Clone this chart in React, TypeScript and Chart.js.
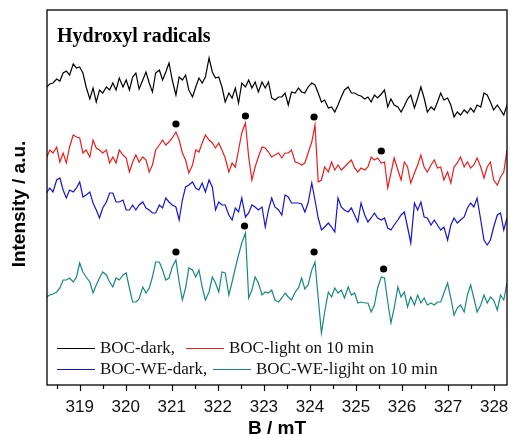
import React, { useEffect, useRef } from 'react';
import { Chart, registerables } from 'chart.js';

Chart.register(...registerables);

// Magnetic field (mT), common sampling grid of all four spectra
const field = [
  318.28, 318.35, 318.42, 318.50, 318.57, 318.64, 318.71, 318.78, 318.86, 318.93,
  319.00, 319.07, 319.14, 319.22, 319.29, 319.36, 319.43, 319.50, 319.58, 319.65,
  319.72, 319.79, 319.86, 319.94, 320.01, 320.08, 320.15, 320.22, 320.29, 320.37,
  320.44, 320.51, 320.58, 320.65, 320.73, 320.80, 320.87, 320.94, 321.01, 321.09,
  321.16, 321.23, 321.30, 321.37, 321.45, 321.52, 321.59, 321.66, 321.73, 321.81,
  321.88, 321.95, 322.02, 322.09, 322.16, 322.24, 322.31, 322.38, 322.45, 322.52,
  322.60, 322.67, 322.74, 322.81, 322.88, 322.96, 323.03, 323.10, 323.17, 323.24,
  323.32, 323.39, 323.46, 323.53, 323.60, 323.68, 323.75, 323.82, 323.89, 323.96,
  324.04, 324.11, 324.18, 324.25, 324.32, 324.40, 324.47, 324.54, 324.61, 324.68,
  324.75, 324.83, 324.90, 324.97, 325.04, 325.11, 325.19, 325.26, 325.33, 325.40,
  325.47, 325.55, 325.62, 325.69, 325.76, 325.83, 325.91, 325.98, 326.05, 326.12,
  326.19, 326.27, 326.34, 326.41, 326.48, 326.55, 326.63, 326.70, 326.77, 326.84,
  326.91, 326.99, 327.06, 327.13, 327.20, 327.27, 327.35, 327.42, 327.49, 327.56,
  327.63, 327.71, 327.78, 327.85, 327.92, 327.99, 328.07, 328.14, 328.21, 328.28,
];

// Intensities (a.u., spectra stacked with offsets as in the figure)
const bocDark = [
  313, 316, 317, 321, 319, 327, 329, 325, 336, 332,
  333, 327, 313, 301, 312, 298, 310, 307, 313, 310,
  317, 310, 322, 313, 320, 310, 323, 327, 311, 320,
  328, 317, 308, 327, 330, 320, 328, 337, 320, 305,
  323, 320, 325, 310, 303, 313, 322, 317, 323, 342,
  328, 322, 323, 313, 298, 307, 302, 312, 297, 317,
  313, 320, 312, 318, 308, 318, 312, 318, 302, 300,
  303, 303, 307, 295, 308, 307, 312, 308, 307, 313,
  317, 315, 307, 298, 300, 292, 293, 288, 295, 303,
  310, 313, 307, 307, 305, 304, 301, 303, 298, 305,
  302, 306, 310, 293, 301, 295, 293, 288, 294, 301,
  305, 292, 302, 313, 302, 288, 293, 290, 298, 307,
  300, 302, 295, 283, 288, 285, 290, 287, 292, 288,
  295, 293, 307, 305, 298, 290, 295, 290, 285, 295,
];

const bocLight = [
  242, 250, 247, 253, 238, 247, 237, 253, 265, 263,
  262, 247, 250, 243, 260, 252, 250, 247, 250, 237,
  243, 237, 250, 245, 242, 228, 238, 245, 238, 243,
  240, 228, 235, 250, 255, 260, 255, 258, 262, 268,
  260, 247, 240, 227, 235, 250, 248, 257, 265, 260,
  257, 252, 257, 250, 242, 228, 237, 233, 250, 267,
  277, 243, 220, 233, 243, 253, 252, 248, 243, 245,
  247, 242, 247, 247, 250, 238, 237, 235, 237, 247,
  258, 275, 218, 220, 233, 228, 238, 230, 235, 230,
  233, 237, 240, 232, 228, 232, 230, 233, 243, 240,
  242, 237, 238, 212, 227, 242, 230, 220, 238, 233,
  217, 227, 235, 245, 233, 228, 235, 240, 232, 233,
  220, 228, 217, 233, 237, 243, 233, 238, 232, 235,
  242, 233, 222, 233, 238, 220, 215, 223, 228, 250,
];

const bocWeDark = [
  207, 212, 208, 220, 222, 210, 202, 210, 208, 212,
  218, 203, 205, 208, 197, 190, 182, 192, 198, 207,
  207, 198, 198, 200, 190, 190, 195, 190, 195, 198,
  192, 190, 187, 187, 195, 192, 202, 198, 195, 193,
  180, 200, 213, 215, 218, 212, 210, 217, 208, 220,
  213, 190, 198, 195, 195, 185, 180, 192, 188, 202,
  183, 187, 195, 193, 190, 193, 173, 190, 202, 193,
  190, 185, 205, 203, 197, 197, 197, 196, 188, 197,
  217, 200, 182, 170, 173, 177, 173, 168, 202, 193,
  190, 188, 192, 185, 178, 197, 185, 178, 182, 187,
  182, 180, 182, 172, 170, 175, 180, 185, 188, 173,
  157, 197, 190, 198, 183, 182, 175, 180, 175, 170,
  173, 160, 175, 182, 177, 180, 183, 192, 197, 193,
  202, 180, 160, 155, 160, 173, 185, 187, 170, 182,
];

const bocWeLight = [
  103, 105, 106, 108, 112, 120, 120, 122, 118, 123,
  137, 128, 123, 118, 107, 115, 122, 128, 125, 118,
  113, 122, 120, 125, 127, 112, 98, 98, 101, 113,
  107, 112, 123, 138, 138, 130, 120, 122, 133, 140,
  118, 100, 112, 132, 130, 123, 130, 113, 100, 108,
  123, 117, 108, 128, 127, 105, 118, 132, 145, 157,
  167, 102, 110, 123, 117, 105, 108, 107, 110, 100,
  98, 102, 107, 103, 100, 108, 112, 122, 111, 115,
  130, 138, 102, 67, 88, 108, 103, 112, 107, 110,
  102, 113, 105, 107, 97, 98, 97, 97, 88, 95,
  112, 123, 122, 98, 77, 92, 113, 103, 108, 93,
  103, 95, 105, 97, 102, 95, 97, 95, 98, 98,
  107, 117, 102, 85, 92, 95, 88, 105, 115, 102,
  88, 95, 105, 97, 103, 100, 90, 105, 100, 117,
];

// Peak markers (DMPO-OH quartet)
const dotField = [321.09, 322.60, 324.09, 325.55, 321.09, 322.58, 324.09, 325.60];
const dotIntensity = [276, 284, 283, 249, 148, 174, 148, 131];

const seriesLabels = ['BOC-dark,', 'BOC-light on 10 min', 'BOC-WE-dark,', 'BOC-WE-ligjht on 10 min'];
const seriesColors = ['#000000', '#ee1c1c', '#1414d4', '#178a7e'];
const majorTicks = [319, 320, 321, 322, 323, 324, 325, 326, 327, 328];
const minorTicks = [318.5, 319.5, 320.5, 321.5, 322.5, 323.5, 324.5, 325.5, 326.5, 327.5];
const panelTitle = 'Hydroxyl radicals';
const xTitle = 'B / mT';
const yTitle = 'Intensity / a.u.';

const SERIF = '"Liberation Serif", "Times New Roman", serif';
const SANS = '"Liberation Sans", Arial, sans-serif';

const decorPlugin = {
  id: 'decor',
  afterDatasetsDraw(chart: any) {
    const { ctx, chartArea, scales } = chart;
    const { left, right, top, bottom } = chartArea;
    const xs = scales.x;
    ctx.save();
    // frame
    ctx.strokeStyle = '#000';
    ctx.lineWidth = 1.3;
    ctx.strokeRect(left, top, right - left, bottom - top);
    // outward ticks
    ctx.lineWidth = 1.2;
    ctx.beginPath();
    majorTicks.forEach((v) => {
      const p = Math.round(xs.getPixelForValue(v)) + 0.5;
      ctx.moveTo(p, bottom);
      ctx.lineTo(p, bottom + 6);
    });
    minorTicks.forEach((v) => {
      const p = Math.round(xs.getPixelForValue(v)) + 0.5;
      ctx.moveTo(p, bottom);
      ctx.lineTo(p, bottom + 4);
    });
    ctx.stroke();
    // panel title
    ctx.fillStyle = '#000';
    ctx.font = 'bold 20px ' + SERIF;
    ctx.textAlign = 'left';
    ctx.textBaseline = 'alphabetic';
    ctx.fillText(panelTitle, left + 10, top + 32);
    // y-axis title
    ctx.save();
    ctx.translate(20, 204);
    ctx.rotate(-Math.PI / 2);
    ctx.font = 'bold 19px ' + SANS;
    ctx.textAlign = 'center';
    ctx.textBaseline = 'middle';
    ctx.fillText(yTitle, 0, 0);
    ctx.restore();
    // legend (2 x 2)
    const items = [
      { i: 0, x: left + 10, y: bottom - 37 },
      { i: 1, x: left + 139, y: bottom - 37 },
      { i: 2, x: left + 10, y: bottom - 16 },
      { i: 3, x: left + 166, y: bottom - 16 },
    ];
    ctx.font = '17px ' + SERIF;
    ctx.textBaseline = 'middle';
    items.forEach(({ i, x, y }) => {
      const ds = chart.data.datasets[i];
      ctx.strokeStyle = ds.borderColor;
      ctx.lineWidth = 1.2;
      ctx.beginPath();
      ctx.moveTo(x, y + 0.5);
      ctx.lineTo(x + 38, y + 0.5);
      ctx.stroke();
      ctx.fillStyle = '#111';
      ctx.fillText(ds.label, x + 43, y + 1);
    });
    ctx.restore();
  },
};

export default function App() {
  const ref = useRef<HTMLCanvasElement | null>(null);

  useEffect(() => {
    if (!ref.current) return;
    const series = [bocDark, bocLight, bocWeDark, bocWeLight];
    const datasets: any[] = series.map((vals, i) => ({
      label: seriesLabels[i],
      data: field.map((f, k) => ({ x: f, y: vals[k] })),
      borderColor: seriesColors[i],
      borderWidth: 1.2,
      pointRadius: 0,
      tension: 0,
      fill: false,
    }));
    datasets.push({
      label: 'peaks',
      data: dotField.map((f, k) => ({ x: f, y: dotIntensity[k] })),
      showLine: false,
      pointRadius: 3.6,
      pointBackgroundColor: '#000',
      pointBorderWidth: 0,
      borderColor: '#000',
    });

    const chart = new Chart(ref.current, {
      type: 'line',
      data: { datasets },
      options: {
        animation: false,
        responsive: false,
        devicePixelRatio: 1,
        events: [],
        layout: { padding: { top: 10, right: 1, left: 0, bottom: 0 } },
        plugins: { legend: { display: false }, tooltip: { enabled: false } },
        scales: {
          x: {
            type: 'linear',
            min: 318.29,
            max: 328.28,
            afterBuildTicks: (scale: any) => {
              scale.ticks = majorTicks.map((v) => ({ value: v }));
            },
            afterFit: (scale: any) => {
              scale.height = 50;
              scale.paddingLeft = 0;
              scale.paddingRight = 0;
            },
            grid: { display: false, drawTicks: false },
            border: { display: false },
            ticks: {
              padding: 12,
              color: '#111',
              font: { family: SANS, size: 17 },
              maxRotation: 0,
              autoSkip: false,
              callback: (v: any) => String(v),
            },
            title: {
              display: true,
              text: xTitle,
              color: '#000',
              font: { family: SANS, size: 19, weight: 'bold', lineHeight: 1 },
              padding: { top: 0, bottom: -3 },
            },
          },
          y: {
            type: 'linear',
            min: 15,
            max: 390,
            afterFit: (scale: any) => {
              scale.width = 47;
              scale.paddingTop = 0;
              scale.paddingBottom = 0;
            },
            grid: { display: false, drawTicks: false },
            border: { display: false },
            ticks: { display: false },
            title: { display: false },
          },
        },
      },
      plugins: [decorPlugin],
    } as any);
    return () => chart.destroy();
  }, []);

  return (
    <div style={{ position: 'absolute', left: 0, top: 0, width: 511, height: 435, background: '#fff' }}>
      <canvas ref={ref} width={511} height={435} style={{ display: 'block' }} />
    </div>
  );
}
